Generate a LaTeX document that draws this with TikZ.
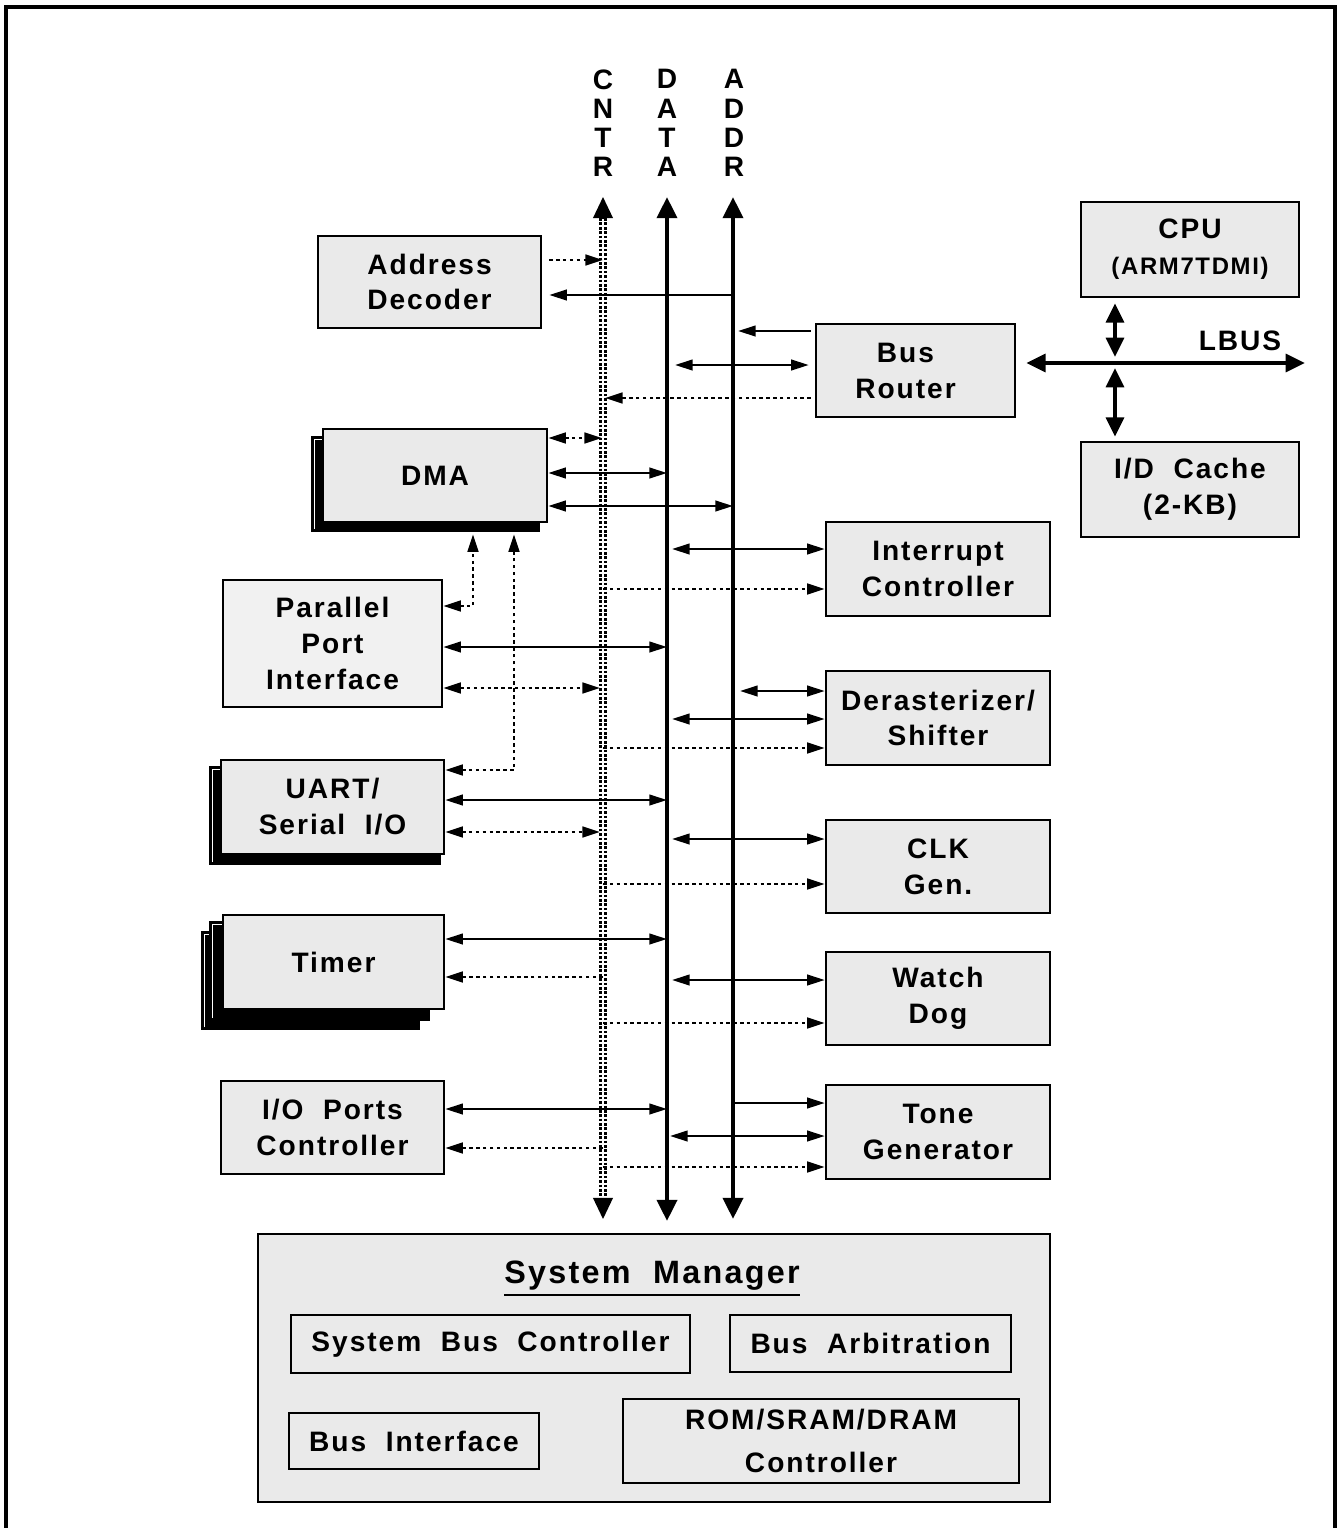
\documentclass[tikz,border=0pt]{standalone}
\usepackage{fontspec}
\setmainfont{Liberation Sans}[LetterSpace=7,WordSpace=2]
\usetikzlibrary{arrows.meta,positioning}
\definecolor{boxgray}{HTML}{EAEAEA}
\definecolor{palegray}{HTML}{F1F1F1}
\newcommand{\lbl}{\bfseries\fontsize{8}{10.2}\selectfont}

\begin{document}
\begin{tikzpicture}
[x=0.1mm,y=-0.1mm,
box/.style={draw,line width=0.7pt,fill=boxgray,inner sep=0pt,align=center,font=\lbl},
sub/.style={draw,line width=0.7pt,inner sep=0pt,align=center,font=\lbl},
back/.style={draw,line width=0.7pt,fill=black},
backline/.style={white,line width=0.4pt},
bus/.style={line width=1.3pt,{Triangle[length=6pt,width=5.6pt]}-{Triangle[length=6pt,width=5.6pt]}},
bustip/.style={line width=0.5pt,-{Triangle[length=6pt,width=5.6pt]}},
cntrdots/.style={line width=0.75pt,dash pattern=on 0.75pt off 0.5pt},
lbus/.style={line width=1.2pt,{Triangle[length=5.5pt,width=5pt]}-{Triangle[length=5.5pt,width=5pt]}},
twoway/.style={line width=0.65pt,{Triangle[length=5pt,width=3pt]}-{Triangle[length=5pt,width=3pt]}},
oneway/.style={line width=0.65pt,-{Triangle[length=5pt,width=3pt]}},
ctrltwoway/.style={twoway,line width=0.8pt,dash pattern=on 1pt off 0.95pt},
ctrloneway/.style={oneway,line width=0.8pt,dash pattern=on 1pt off 0.95pt}]
\useasboundingbox (0,0) rectangle (1342,1528);
\draw[line width=0.9pt] (6,1528) -- (6,7) -- (1335,7) -- (1335,1528);

% the three buses
\coordinate (cntrtop) at (603,197);
\coordinate (cntrbot) at (603,1219);
\coordinate (datatop) at (667,197);
\coordinate (databot) at (667,1221);
\coordinate (addrtop) at (733,197);
\coordinate (addrbot) at (733,1219);
\node[font=\bfseries\fontsize{8}{8.3}\selectfont,align=center] (cntrlabel) at (603,123) {C\\N\\T\\R};
\node[font=\bfseries\fontsize{8}{8.3}\selectfont,align=center] (datalabel) at (667,123) {D\\A\\T\\A};
\node[font=\bfseries\fontsize{8}{8.3}\selectfont,align=center] (addrlabel) at (734,123) {A\\D\\D\\R};
\draw[bus] (databot) -- (datatop);
\draw[bus] (addrbot) -- (addrtop);
\draw[cntrdots] ([xshift=-0.24mm,yshift=-6pt]cntrtop) -- ([xshift=-0.24mm,yshift=6pt]cntrbot);
\draw[cntrdots] ([xshift=0.24mm,yshift=-6pt]cntrtop) -- ([xshift=0.24mm,yshift=6pt]cntrbot);
\draw[bustip] ([yshift=-6pt]cntrtop) -- (cntrtop);
\draw[bustip] ([yshift=6pt]cntrbot) -- (cntrbot);

% left column
\node[box,minimum width=22.3mm,minimum height=9.2mm] (adec) at (429.5,282) {Address\\Decoder};
\draw[back] (312,437) rectangle (539,531);
\draw[backline] (314.5,529) -- (314.5,439.5) -- (537,439.5);
\node[box,minimum width=22.4mm,minimum height=9.3mm] (dma) at (435,475.5) {DMA};
\node[box,fill=palegray,minimum width=21.9mm,minimum height=12.7mm] (ppi) at (332.5,643.5) {Parallel\\Port\\Interface};
\draw[back] (210,767) rectangle (440,864);
\draw[backline] (212.5,862) -- (212.5,769.5) -- (438,769.5);
\node[box,minimum width=22.3mm,minimum height=9.4mm] (uart) at (332.5,807) {UART/\\Serial I/O};
\draw[back] (202,932) rectangle (419,1029);
\draw[backline] (204.5,1027) -- (204.5,934.5) -- (417,934.5);
\draw[back] (210,922) rectangle (429,1020);
\draw[backline] (212.5,1018) -- (212.5,924.5) -- (427,924.5);
\node[box,minimum width=22.1mm,minimum height=9.4mm] (timer) at (333.5,962) {Timer};
\node[box,minimum width=22.3mm,minimum height=9.3mm] (iopc) at (332.5,1127.5) {I/O Ports\\Controller};

% right column
\node[box,minimum width=19.9mm,minimum height=9.3mm,text depth=0pt] (router) at (915.5,370.5) {\hspace*{-2mm}Bus\\\hspace*{-2mm}Router};
\node[box,minimum width=21.8mm,minimum height=9.5mm] (cpu) at (1190,249.5) {CPU\\{\fontsize{6.8}{8}\selectfont(ARM7TDMI)}};
\node[box,minimum width=21.8mm,minimum height=9.5mm] (cache) at (1190,489.5) {I/D Cache\\(2-KB)};
\node[box,minimum width=22.4mm,minimum height=9.4mm] (intc) at (938,569) {Interrupt\\Controller};
\node[box,minimum width=22.4mm,minimum height=9.4mm] (deras) at (938,718) {Derasterizer/\\Shifter};
\node[box,minimum width=22.4mm,minimum height=9.3mm] (clk) at (938,866.5) {CLK\\Gen.};
\node[box,minimum width=22.4mm,minimum height=9.3mm] (wdog) at (938,998.5) {Watch\\Dog};
\node[box,minimum width=22.4mm,minimum height=9.4mm] (tone) at (938,1132) {Tone\\Generator};

% system manager
\node[box,minimum width=79.2mm,minimum height=26.8mm] (sysmgr) at (654,1368) {};
\node[font=\bfseries\fontsize{9.2}{11}\selectfont] (sysmgrtitle) at (652,1279) {\underline{System Manager}};
\node[sub,minimum width=39.9mm,minimum height=5.8mm] (sbc) at (490.5,1344) {System Bus Controller};
\node[sub,minimum width=28.1mm,minimum height=5.7mm] (arb) at (870.5,1343.5) {Bus Arbitration};
\node[sub,minimum width=25mm,minimum height=5.6mm] (busif) at (414,1441) {Bus Interface};
\node[sub,minimum width=39.6mm,minimum height=8.4mm] (memc) at (821,1441) {ROM/SRAM/DRAM\\[2pt]Controller};

% local bus
\coordinate (lbusend) at (1305,363);
\coordinate (lbustap) at (1115,363);
\draw[lbus,shorten <=1mm] (router.east |- lbusend) -- (lbusend);
\node[font=\lbl] (lbuslabel) at (1240,341) {LBUS};
\draw[lbus,shorten <=0.5mm,shorten >=0.6mm] (cpu.south -| lbustap) -- (lbustap);
\draw[lbus,shorten <=0.4mm,shorten >=0.5mm] (cache.north -| lbustap) -- (lbustap);

% links on the left
\draw[ctrloneway,shorten <=0.7mm] (adec.east |- 0,260) -- (cntrtop |- 0,260);
\draw[oneway,shorten >=0.7mm] (addrtop |- 0,295) -- (adec.east |- 0,295);
\draw[ctrltwoway,shorten >=0.1mm] (dma.east |- 0,438) -- (cntrtop |- 0,438);
\draw[twoway] (dma.east |- 0,473) -- (datatop |- 0,473);
\draw[twoway] (dma.east |- 0,506) -- (addrtop |- 0,506);
\draw[ctrltwoway] (ppi.east |- 0,606) -| ([xshift=3.8mm,yshift=-1.1mm]dma.south);
\draw[twoway] (ppi.east |- 0,647) -- (datatop |- 0,647);
\draw[ctrltwoway,shorten >=0.3mm] (ppi.east |- 0,688) -- (cntrtop |- 0,688);
\draw[ctrltwoway] (uart.east |- 0,770) -| ([xshift=7.9mm,yshift=-1.1mm]dma.south);
\draw[twoway] (uart.east |- 0,800) -- (datatop |- 0,800);
\draw[ctrltwoway,shorten >=0.3mm] (uart.east |- 0,832) -- (cntrtop |- 0,832);
\draw[twoway] (timer.east |- 0,939) -- (datatop |- 0,939);
\draw[ctrloneway] (cntrtop |- 0,977) -- (timer.east |- 0,977);
\draw[twoway] (iopc.east |- 0,1109) -- (datatop |- 0,1109);
\draw[ctrloneway] (cntrtop |- 0,1148) -- (iopc.east |- 0,1148);

% links on the right
\draw[oneway,shorten <=0.4mm,shorten >=0.5mm] (router.west |- 0,331) -- (addrtop |- 0,331);
\draw[twoway,shorten <=0.8mm,shorten >=0.6mm] (datatop |- 0,365) -- (router.west |- 0,365);
\draw[ctrloneway,shorten <=0.4mm,shorten >=0.2mm] (router.west |- 0,398) -- (cntrtop |- 0,398);
\draw[twoway,shorten <=0.5mm] (datatop |- 0,549) -- (intc.west |- 0,549);
\draw[ctrloneway] (cntrtop |- 0,589) -- (intc.west |- 0,589);
\draw[twoway,shorten <=0.7mm] (addrtop |- 0,691) -- (deras.west |- 0,691);
\draw[twoway,shorten <=0.5mm] (datatop |- 0,719) -- (deras.west |- 0,719);
\draw[ctrloneway] (cntrtop |- 0,748) -- (deras.west |- 0,748);
\draw[twoway,shorten <=0.5mm] (datatop |- 0,839) -- (clk.west |- 0,839);
\draw[ctrloneway] (cntrtop |- 0,884) -- (clk.west |- 0,884);
\draw[twoway,shorten <=0.5mm] (datatop |- 0,980) -- (wdog.west |- 0,980);
\draw[ctrloneway] (cntrtop |- 0,1023) -- (wdog.west |- 0,1023);
\draw[oneway] (addrtop |- 0,1103) -- (tone.west |- 0,1103);
\draw[twoway,shorten <=0.3mm] (datatop |- 0,1136) -- (tone.west |- 0,1136);
\draw[ctrloneway] (cntrtop |- 0,1167) -- (tone.west |- 0,1167);
\end{tikzpicture}
\end{document}
